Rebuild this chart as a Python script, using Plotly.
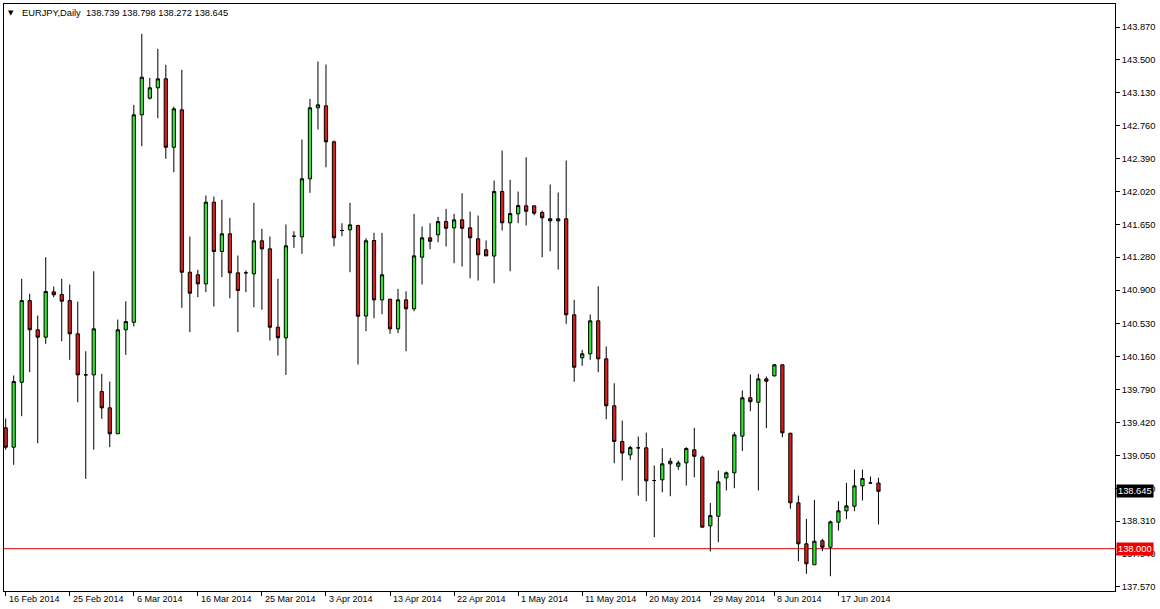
import pandas as pd
import plotly.graph_objects as go

# Trading days (Sunday-Friday sessions), 110 daily bars starting 16 Feb 2014
dates = [d.strftime("%Y-%m-%d") for d in pd.bdate_range("2014-02-16", periods=110, freq="C",
                                                          weekmask="Sun Mon Tue Wed Thu Fri")]

open_ = [139.360, 139.142, 139.873, 140.792, 140.463, 140.380, 140.890, 140.860, 140.792, 140.418,
         139.956, 139.956, 139.769, 139.585, 139.293, 140.463, 140.548, 142.882, 143.069, 143.186,
         143.287, 142.517, 142.938, 141.111, 141.082, 140.980, 141.899, 141.344, 141.543, 141.104,
         141.104, 141.093, 141.464, 141.374, 140.492, 140.373, 141.516, 141.509, 142.162, 142.961,
         142.983, 142.578, 141.580, 141.588, 141.636, 140.618, 141.468, 140.800, 140.807, 140.474,
         140.800, 140.699, 141.280, 141.498, 141.532, 141.681, 141.610, 141.700, 141.610, 141.487,
         141.363, 141.293, 142.019, 141.667, 141.768, 141.858, 141.858, 141.783, 141.712, 141.689,
         141.712, 140.632, 140.148, 140.193, 140.564, 140.136, 139.608, 139.206, 139.056, 139.135,
         139.135, 138.767, 138.775, 138.955, 138.928, 138.966, 139.113, 139.029, 138.257, 138.365,
         138.797, 138.854, 139.266, 139.698, 139.648, 139.911, 139.945, 140.069, 139.299, 138.516,
         138.055, 137.819, 138.089, 138.017, 138.298, 138.426, 138.478, 138.707, 138.739, 138.739]

high = [139.465, 139.949, 141.037, 140.868, 140.624, 141.280, 140.950, 141.037, 140.972, 140.781,
        140.222, 141.122, 139.968, 139.881, 140.579, 140.785, 142.994, 143.793, 143.298, 143.625,
        143.445, 142.975, 143.388, 141.513, 141.138, 141.974, 141.963, 141.926, 141.723, 141.299,
        141.130, 141.892, 141.599, 141.513, 141.037, 141.648, 141.572, 142.604, 143.062, 143.482,
        143.448, 142.593, 141.662, 141.892, 141.644, 141.493, 141.554, 141.554, 140.812, 140.924,
        140.897, 141.768, 141.625, 141.662, 141.734, 141.824, 141.768, 142.000, 141.794, 141.749,
        141.468, 142.143, 142.480, 142.151, 142.019, 142.405, 141.861, 141.805, 142.098, 142.008,
        142.368, 140.800, 140.238, 140.635, 140.953, 140.275, 139.862, 139.442, 139.158, 139.262,
        139.307, 138.936, 139.130, 139.022, 138.992, 139.142, 139.360, 139.048, 138.516, 138.880,
        138.868, 139.311, 139.780, 139.960, 139.968, 139.937, 140.080, 140.072, 139.304, 138.598,
        138.336, 138.550, 138.111, 138.317, 138.534, 138.741, 138.891, 138.891, 138.812, 138.798]

low = [139.113, 138.944, 139.491, 139.986, 139.187, 140.305, 140.830, 140.334, 140.125, 139.648,
       138.786, 139.113, 139.461, 139.142, 139.293, 140.181, 140.500, 142.529, 143.054, 142.844,
       142.387, 142.236, 140.710, 140.436, 140.830, 140.886, 140.725, 141.055, 140.818, 140.436,
       140.886, 140.717, 140.688, 140.342, 140.173, 139.956, 141.385, 141.318, 142.004, 142.717,
       142.292, 141.403, 141.516, 141.111, 140.072, 140.447, 140.593, 140.638, 140.418, 140.425,
       140.222, 140.672, 140.972, 141.370, 141.448, 141.400, 141.212, 141.175, 141.043, 141.017,
       141.295, 140.987, 141.580, 141.122, 141.662, 141.636, 141.752, 141.280, 141.347, 141.141,
       140.530, 139.878, 140.058, 140.125, 139.986, 139.457, 138.962, 138.767, 139.000, 138.598,
       138.534, 138.129, 138.635, 138.590, 138.887, 138.711, 138.804, 138.242, 137.968, 138.073,
       138.655, 138.680, 139.099, 139.547, 138.655, 139.356, 139.937, 139.254, 138.449, 137.859,
       137.717, 137.819, 137.972, 137.690, 138.204, 138.332, 138.422, 138.542, 138.730, 138.272]

close = [139.142, 139.881, 140.792, 140.463, 140.380, 140.894, 140.857, 140.785, 140.418, 139.956,
         139.956, 140.474, 139.585, 139.293, 140.463, 140.556, 142.882, 143.305, 143.186, 143.287,
         142.517, 142.949, 141.111, 140.875, 140.980, 141.899, 141.344, 141.543, 141.104, 140.905,
         141.104, 141.464, 141.374, 140.492, 140.373, 141.408, 141.516, 142.162, 142.961, 142.994,
         142.578, 141.498, 141.580, 141.644, 140.616, 141.465, 140.800, 141.082, 140.474, 140.800,
         140.699, 141.295, 141.498, 141.460, 141.681, 141.606, 141.700, 141.606, 141.498, 141.307,
         141.295, 142.019, 141.667, 141.771, 141.861, 141.797, 141.775, 141.723, 141.689, 141.712,
         140.632, 140.042, 140.193, 140.564, 140.136, 139.608, 139.206, 139.077, 139.138, 139.135,
         138.764, 138.767, 138.955, 138.984, 138.966, 139.127, 139.040, 138.242, 138.373, 138.752,
         138.854, 139.281, 139.698, 139.654, 139.911, 139.884, 140.069, 139.304, 138.516, 138.055,
         137.830, 138.084, 138.017, 138.302, 138.426, 138.482, 138.707, 138.790, 138.739, 138.645]

tick_index = [0, 8, 16, 24, 32, 40, 48, 56, 64, 72, 80, 88, 96, 104]
tick_labels = ["16 Feb 2014", "25 Feb 2014", "6 Mar 2014", "16 Mar 2014", "25 Mar 2014",
               "3 Apr 2014", "13 Apr 2014", "22 Apr 2014", "1 May 2014", "11 May 2014",
               "20 May 2014", "29 May 2014", "8 Jun 2014", "17 Jun 2014"]

price_ticks = [143.870, 143.500, 143.130, 142.760, 142.390, 142.020, 141.650, 141.280, 140.910,
               140.530, 140.160, 139.790, 139.420, 139.050, 138.680, 138.310, 137.940, 137.570]
price_tick_text = ["143.870", "143.500", "143.130", "142.760", "142.390", "142.020", "141.650",
                   "141.280", "140.900", "140.530", "140.160", "139.790", "139.420", "139.050",
                   "138.680", "138.310", "137.940", "137.570"]

symbol_title = "EURJPY,Daily  138.739 138.798 138.272 138.645"
support_level = 138.000
last_price = 138.645

FONT = "Liberation Sans, Arial, sans-serif"
GREEN = "#2ee82e"
RED = "#dc1c1c"

fig = go.Figure()
fig.add_trace(go.Candlestick(
    x=dates, open=open_, high=high, low=low, close=close,
    increasing=dict(line=dict(color="black", width=1), fillcolor=GREEN),
    decreasing=dict(line=dict(color="black", width=1), fillcolor=RED),
    whiskerwidth=0, hoverinfo="skip", showlegend=False,
))

fig.add_shape(type="line", xref="paper", x0=0, x1=1, yref="y", y0=support_level, y1=support_level,
              line=dict(color="#d40000", width=1), layer="below")

annotations = []
for idx, lab in zip(tick_index, tick_labels):
    annotations.append(dict(x=dates[idx], xref="x", y=0, yref="paper", yanchor="top", xanchor="left",
                            text=lab, showarrow=False, xshift=1, yshift=-1,
                            font=dict(family=FONT, size=9, color="black")))
annotations.append(dict(x=0.0144, xref="paper", y=0.985, yref="paper", xanchor="left", yanchor="middle",
                        text=symbol_title, showarrow=False,
                        font=dict(family=FONT, size=9.3, color="black")))
annotations.append(dict(x=0.0065, xref="paper", y=0.985, yref="paper", xanchor="center", yanchor="middle",
                        text="▼", showarrow=False, font=dict(family="DejaVu Sans", size=7, color="black")))
annotations.append(dict(x=1, xref="paper", y=last_price, yref="y", xanchor="left", yanchor="middle",
                        text=f"{last_price:.3f}", showarrow=False, bgcolor="black", borderpad=1, xshift=1,
                        font=dict(family=FONT, size=9.3, color="white")))
annotations.append(dict(x=1, xref="paper", y=support_level, yref="y", xanchor="left", yanchor="middle",
                        text=f"{support_level:.3f}", showarrow=False, bgcolor="#ee0000", borderpad=1, xshift=1,
                        font=dict(family=FONT, size=9.3, color="white")))

fig.update_layout(
    width=1160, height=609,
    margin=dict(l=4, r=45, t=4, b=18),
    paper_bgcolor="white", plot_bgcolor="white",
    boxgap=0.42,
    annotations=annotations,
    xaxis=dict(type="category", range=[-0.21, 138.54], rangeslider=dict(visible=False),
               showgrid=False, zeroline=False, showline=True, linecolor="black", linewidth=1, mirror=True,
               tickmode="array", tickvals=[dates[i] for i in tick_index], ticktext=[""] * len(tick_index),
               ticks="outside", ticklen=4, tickcolor="black", showticklabels=False, fixedrange=True),
    yaxis=dict(side="right", range=[137.524, 144.129], showgrid=False, zeroline=False,
               showline=True, linecolor="black", linewidth=1, mirror=True,
               tickmode="array", tickvals=price_ticks, ticktext=price_tick_text,
               ticks="outside", ticklen=4, tickcolor="black",
               tickfont=dict(family=FONT, size=9.3, color="black"), fixedrange=True),
)

fig.write_html("out.html", config={"displayModeBar": False},
               post_script="document.body.style.margin='0px';document.body.style.overflow='hidden';")
